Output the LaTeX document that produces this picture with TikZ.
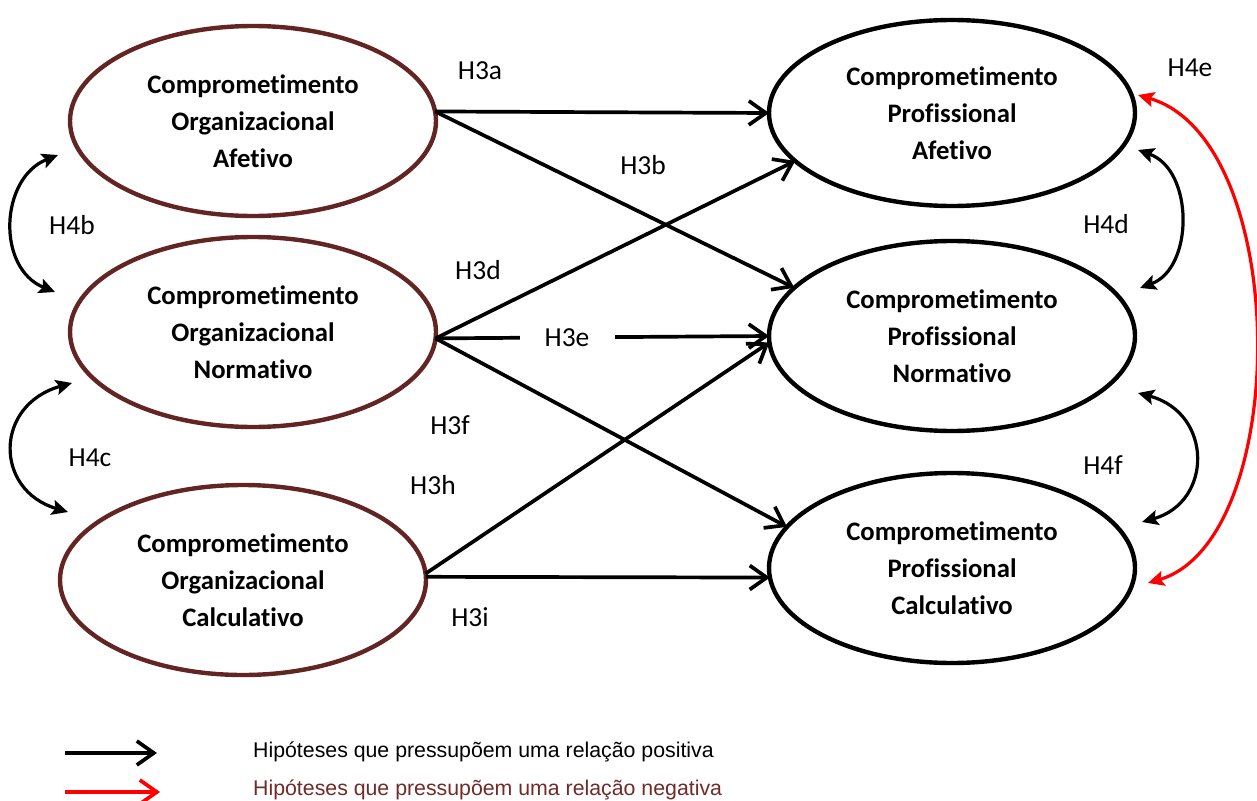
\documentclass[tikz,border=0pt]{standalone}
\usepackage{fontspec}
\setmainfont{Carlito}[Ligatures=NoCommon]
\newfontfamily\legendfont{Liberation Sans}
\usetikzlibrary{shapes.geometric,arrows.meta}
\definecolor{orgbrown}{RGB}{99,37,35}
\definecolor{legbrown}{RGB}{112,42,40}

\begin{document}
\begin{tikzpicture}[x=1pt,y=-1pt,
  construct/.style={ellipse, draw, line width=4.4pt, minimum width=366pt,
    minimum height=190pt, inner sep=0pt, outer sep=0pt, align=center,
    font=\fontsize{26.7}{37}\selectfont\bfseries},
  org/.style={construct, draw=orgbrown},
  prof/.style={construct, draw=black},
  hyp/.style={font=\fontsize{27.5}{32}\selectfont, inner sep=0pt},
  posarrow/.style={line width=3.7pt, -{Straight Barb[length=17pt,width=24pt]}},
  corr/.style={line width=3.2pt,
    {Stealth[length=16pt,width=15pt,inset=3pt]}-{Stealth[length=16pt,width=15pt,inset=3pt]}},
  negcorr/.style={corr, draw=red},
  legtext/.style={anchor=west, inner sep=0pt, font=\legendfont\fontsize{21.3}{24}\selectfont},
]
\useasboundingbox (0,0) rectangle (1257,800);

% organisational commitment constructs
\node[org] (OA) at (253,121) {Comprometimento\\Organizacional\\Afetivo};
\node[org] (ON) at (253,332) {Comprometimento\\Organizacional\\Normativo};
\node[org] (OC) at (243,580) {Comprometimento\\Organizacional\\Calculativo};

% professional commitment constructs
\node[prof, minimum height=186pt] (PA) at (952,113) {Comprometimento\\Profissional\\Afetivo};
\node[prof] (PN) at (952,336) {Comprometimento\\Profissional\\Normativo};
\node[prof] (PC) at (952,568) {Comprometimento\\Profissional\\Calculativo};

% H3 paths
\draw[posarrow] (OA.3) -- (PA.180);
\draw[posarrow] (OA.3) -- (PN.163);
\draw[posarrow] (ON.-2) -- (PA.197);
\draw[posarrow] (ON.-2) -- (PN.180);
\draw[posarrow] (ON.-2) -- (PC.166);
\draw[posarrow] (OC.2) -- (PN.182);
\draw[posarrow] (OC.1) -- (PC.183);

\node[hyp] (l3a) at (480,71) {H3a};
\node[hyp] (l3b) at (643,165) {H3b};
\node[hyp] (l3d) at (478,270) {H3d};
\node[hyp, fill=white, minimum width=95pt, minimum height=30pt] (l3e) at (567,338) {H3e};
\node[hyp] (l3f) at (450,425) {H3f};
\node[hyp] (l3h) at (433,485) {H3h};
\node[hyp] (l3i) at (470,617) {H3i};

% H4 correlations
\draw[corr] ([shift={(-195,34)}]OA.center) .. controls +(-58,23) and +(-59,-24) .. ([shift={(-198,-40)}]ON.center);
\draw[corr] ([shift={(-181,51)}]ON.center) .. controls +(-78,22) and +(-74,-22) .. ([shift={(-175,-68)}]OC.center);
\draw[corr] ([shift={(186,37)}]PA.center) .. controls +(56,20) and +(54,-20) .. ([shift={(188,-48)}]PN.center);
\draw[corr] ([shift={(186,57)}]PN.center) .. controls +(75,20) and +(71,-20) .. ([shift={(190,-46)}]PC.center);
\draw[negcorr] ([shift={(186,-18)}]PA.center) .. controls +(154,45) and +(144,-43) .. ([shift={(196,15)}]PC.center);

\node[hyp] (l4b) at (72,225) {H4b};
\node[hyp] (l4c) at (90,458) {H4c};
\node[hyp] (l4d) at (1106,224) {H4d};
\node[hyp] (l4e) at (1190,68) {H4e};
\node[hyp] (l4f) at (1103,465) {H4f};

% legend
\coordinate (kp1) at (65,753);
\coordinate (kp2) at (157,753);
\coordinate (kn1) at (65,792);
\coordinate (kn2) at (160,792);
\draw[posarrow] (kp1) -- (kp2);
\draw[posarrow, draw=red] (kn1) -- (kn2);
\node[legtext] (kpt) at (253,752) {Hipóteses que pressupõem uma relação positiva};
\node[legtext, text=legbrown] (knt) at (253,790) {Hipóteses que pressupõem uma relação negativa};
\end{tikzpicture}
\end{document}
